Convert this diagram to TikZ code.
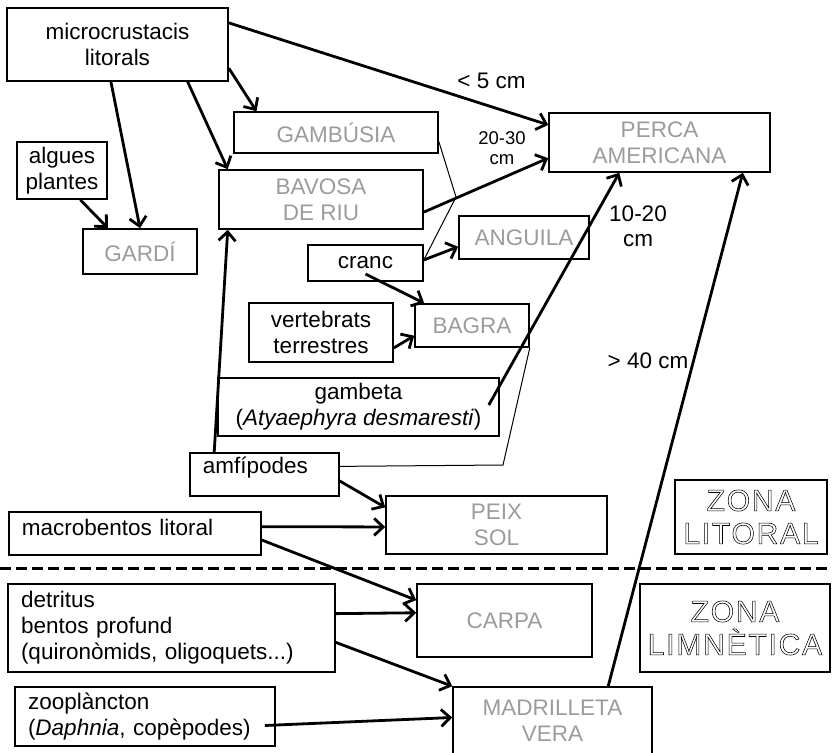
\documentclass[tikz,border=0pt]{standalone}
\usepackage{fontspec}
\setmainfont{Liberation Sans}
\usetikzlibrary{arrows.meta}
\definecolor{fishgray}{RGB}{155,155,155}
\newcommand{\outlined}[1]{\special{pdf:literal direct 1 Tr 0.55 w}#1\special{pdf:literal direct 0 Tr}}

\begin{document}
\begin{tikzpicture}[x=1pt, y=-1pt,
        box/.style={draw, line width=1.6pt, inner sep=2pt, align=center,
          font=\fontsize{22.5}{26}\selectfont},
        food/.style={box},
        fish/.style={box, text=fishgray},
        leftbox/.style={box, align=left, inner xsep=13pt},
        zone/.style={draw, line width=1.4pt, align=center,
          font=\fontsize{30}{33}\selectfont\addfontfeature{LetterSpace=6}},
        feed/.style={line width=2.8pt, -{Straight Barb[length=9pt,width=17pt]}},
        link/.style={line width=1pt},
        sizelabel/.style={inner sep=0pt, align=center, font=\fontsize{22.5}{25}\selectfont}
        ]
        \useasboundingbox (0,0) rectangle (832,752);
        % preses i aliments
        \node[food, minimum width=221pt, minimum height=73pt] (micro) at (117.5,44.5) {microcrustacis\\litorals};
        \node[food, minimum width=90pt, minimum height=57pt] (algues) at (62,170.5) {algues\\plantes};
        \node[food, minimum width=115pt, minimum height=36pt] (cranc) at (365.5,263) {cranc};
        \node[food, minimum width=144pt, minimum height=59pt] (vertebrats) at (321,332.5) {vertebrats\\terrestres};
        \node[food, minimum width=281pt, minimum height=58pt] (gambeta) at (358.5,407) {gambeta\\(\textit{Atyaephyra desmaresti})};
        \node[leftbox, anchor=north west, text width=123pt, text height=19pt, text depth=20pt] (amfipodes) at (189,452) {amfípodes};
        \node[leftbox, anchor=north west, text width=226pt, text height=22pt, text depth=17pt] (macrobentos) at (8,511) {macrobentos litoral};
        \node[leftbox, text width=301pt, minimum height=88pt] (detritus) at (171.5,628) {detritus\\bentos profund\\(quironòmids, oligoquets...)};
        \node[leftbox, text width=234pt, minimum height=59pt] (zooplancton) at (145,716.5) {zooplàncton\\(\textit{Daphnia}, copèpodes)};
        % peixos
        \node[fish, minimum width=114pt, minimum height=45pt] (gardi) at (140,251.5) {GARDÍ};
        \node[fish, minimum width=204pt, minimum height=41pt] (gambusia) at (336,132.5) {GAMBÚSIA};
        \node[fish, minimum width=204pt, minimum height=59pt] (bavosa) at (321,199.5) {BAVOSA\\DE RIU};
        \node[fish, minimum width=130pt, minimum height=43pt] (anguila) at (524,237.5) {ANGUILA};
        \node[fish, minimum width=221pt, minimum height=59pt] (perca) at (659.5,142.5) {PERCA\\AMERICANA};
        \node[fish, minimum width=114pt, minimum height=43pt] (bagra) at (472,325.5) {BAGRA};
        \node[fish, minimum width=221pt, minimum height=58pt] (peix) at (496.5,525) {PEIX\\SOL};
        \node[fish, minimum width=175pt, minimum height=73pt] (carpa) at (504.5,620.5) {CARPA};
        \node[fish, minimum width=199pt, minimum height=68pt] (madrilleta) at (552.5,721) {MADRILLETA\\VERA};
        % zones
        \node[zone, minimum width=152pt, minimum height=74pt] (litoral) at (751,517) {\outlined{ZONA\\LITORAL}};
        \node[zone, minimum width=190pt, minimum height=88pt] (limnetica) at (735,628) {\outlined{ZONA\\LIMNÈTICA}};
        \draw[line width=3pt, dash pattern=on 11pt off 5pt] (0,568) -- (832,568);
        % talles
        \node[sizelabel] (lt5) at (491.5,81) {< 5 cm};
        \node[sizelabel, font=\fontsize{18.5}{20}\selectfont] (l2030) at (502,148) {20-30\\cm};
        \node[sizelabel] (l1020) at (638,226) {10-20\\cm};
        \node[sizelabel] (gt40) at (648,361) {> 40 cm};
        % fletxes
        \coordinate (k1) at (456,197);
        \coordinate (k2) at (503,465);
        \draw[feed] (micro.11) -- (perca.171);
        \draw[feed] (micro.-12) -- (gambusia.165);
        \draw[feed] (micro.-28) -- (bavosa.162);
        \draw[feed] (micro.-100) -- (gardi.north);
        \draw[feed] (algues.-58) -- (gardi.144);
        \draw[feed] (bavosa.-7.5) -- (perca.-172.5);
        \draw[link] (gambusia.-5) -- (k1) -- (cranc.3);
        \draw[feed] (cranc.3) -- (anguila.188);
        \draw[feed] ([yshift=-11pt]cranc.center) -- (bagra.155);
        \draw[feed] (vertebrats.-12) -- (bagra.190);
        \draw[feed] ([shift={(-11pt,2pt)}]gambeta.east) -- (perca.217);
        \draw[feed] (amfipodes.156) -- (bavosa.198);
        \draw[link] (amfipodes.6) -- (k2) -- (bagra.south east);
        \draw[feed] (amfipodes.-5) -- (peix.171);
        \draw[feed] (macrobentos.3) -- (peix.181);
        \draw[feed] (macrobentos.-3.4) -- (carpa.167);
        \draw[feed] (detritus.5) -- (carpa.175);
        \draw[feed] (detritus.-5) -- (madrilleta.north west);
        \draw[feed] ([shift={(-11pt,-9pt)}]zooplancton.east) -- (madrilleta.178);
        \draw[feed] (madrilleta.32) -- (perca.-20);
      \end{tikzpicture}
\end{document}
